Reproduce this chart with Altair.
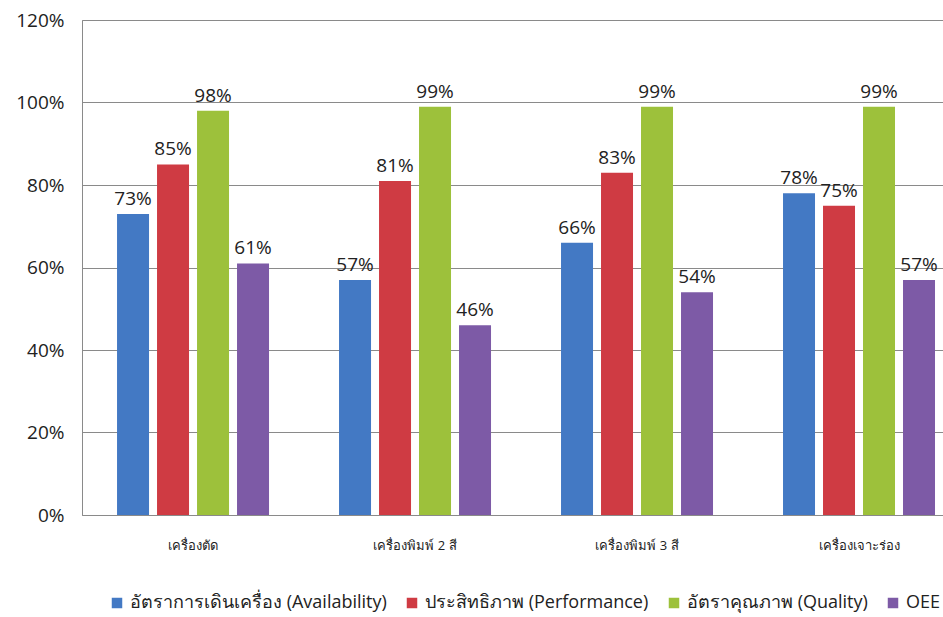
import altair as alt
import pandas as pd

categories = ["เครื่องตัด", "เครื่องพิมพ์ 2 สี", "เครื่องพิมพ์ 3 สี", "เครื่องเจาะร่อง"]
series = ["อัตราการเดินเครื่อง (Availability)", "ประสิทธิภาพ (Performance)", "อัตราคุณภาพ (Quality)", "OEE"]
availability = [0.73, 0.57, 0.66, 0.78]
performance = [0.85, 0.81, 0.83, 0.75]
quality = [0.98, 0.99, 0.99, 0.99]
oee = [0.61, 0.46, 0.54, 0.57]
colors = ["#4379C4", "#CF3B43", "#9DC13B", "#7D5AA6"]

rows = []
for s, vals in zip(series, [availability, performance, quality, oee]):
    for c, v in zip(categories, vals):
        rows.append({"category": c, "series": s, "value": v})
df = pd.DataFrame(rows)

FONT = "Open Sans"

x = alt.X("category:N", sort=categories, title=None,
          scale=alt.Scale(paddingInner=0.2793, paddingOuter=0.0789, align=0.886),
          axis=alt.Axis(labelAngle=0, labelFontSize=13, labelColor="#222222",
                        labelPadding=24, ticks=False, domainColor="#8a8a8a",
                        labelFont=FONT))
xo = alt.XOffset("series:N", sort=series,
                 scale=alt.Scale(paddingInner=0.2, paddingOuter=0.1))
y = alt.Y("value:Q", title=None,
          scale=alt.Scale(domain=[0, 1.2], nice=False),
          axis=alt.Axis(values=[0, 0.2, 0.4, 0.6, 0.8, 1.0, 1.2], format=".0%",
                        labelFontSize=19, labelColor="#222222", labelPadding=18,
                        ticks=False, domain=False, gridColor="#8a8a8a",
                        gridWidth=1, labelFont=FONT))

bars = alt.Chart(df).mark_bar().encode(
    x=x, xOffset=xo, y=y,
    color=alt.Color("series:N", sort=series,
                    scale=alt.Scale(domain=series, range=colors),
                    legend=alt.Legend(title=None, orient="none", direction="horizontal",
                                      legendX=26, legendY=574, columns=4,
                                      symbolType="square", symbolSize=110,
                                      symbolStrokeWidth=0,
                                      labelFontSize=18, labelColor="#222222",
                                      labelFont=FONT, columnPadding=16,
                                      labelLimit=400)),
)

labels = alt.Chart(df).mark_text(dy=-15, fontSize=19, color="#222222", font=FONT).encode(
    x=x, xOffset=xo, y=y,
    text=alt.Text("value:Q", format=".0%"),
)

chart = alt.layer(bars, labels).properties(
    width=861, height=495,
    autosize=alt.AutoSizeParams(type="none"),
    padding={"left": 82, "top": 20, "right": 0, "bottom": 102},
    background="white",
).configure_view(stroke="#8a8a8a", strokeWidth=1)

chart.save("out.html", embed_options={"renderer": "svg", "actions": False})
